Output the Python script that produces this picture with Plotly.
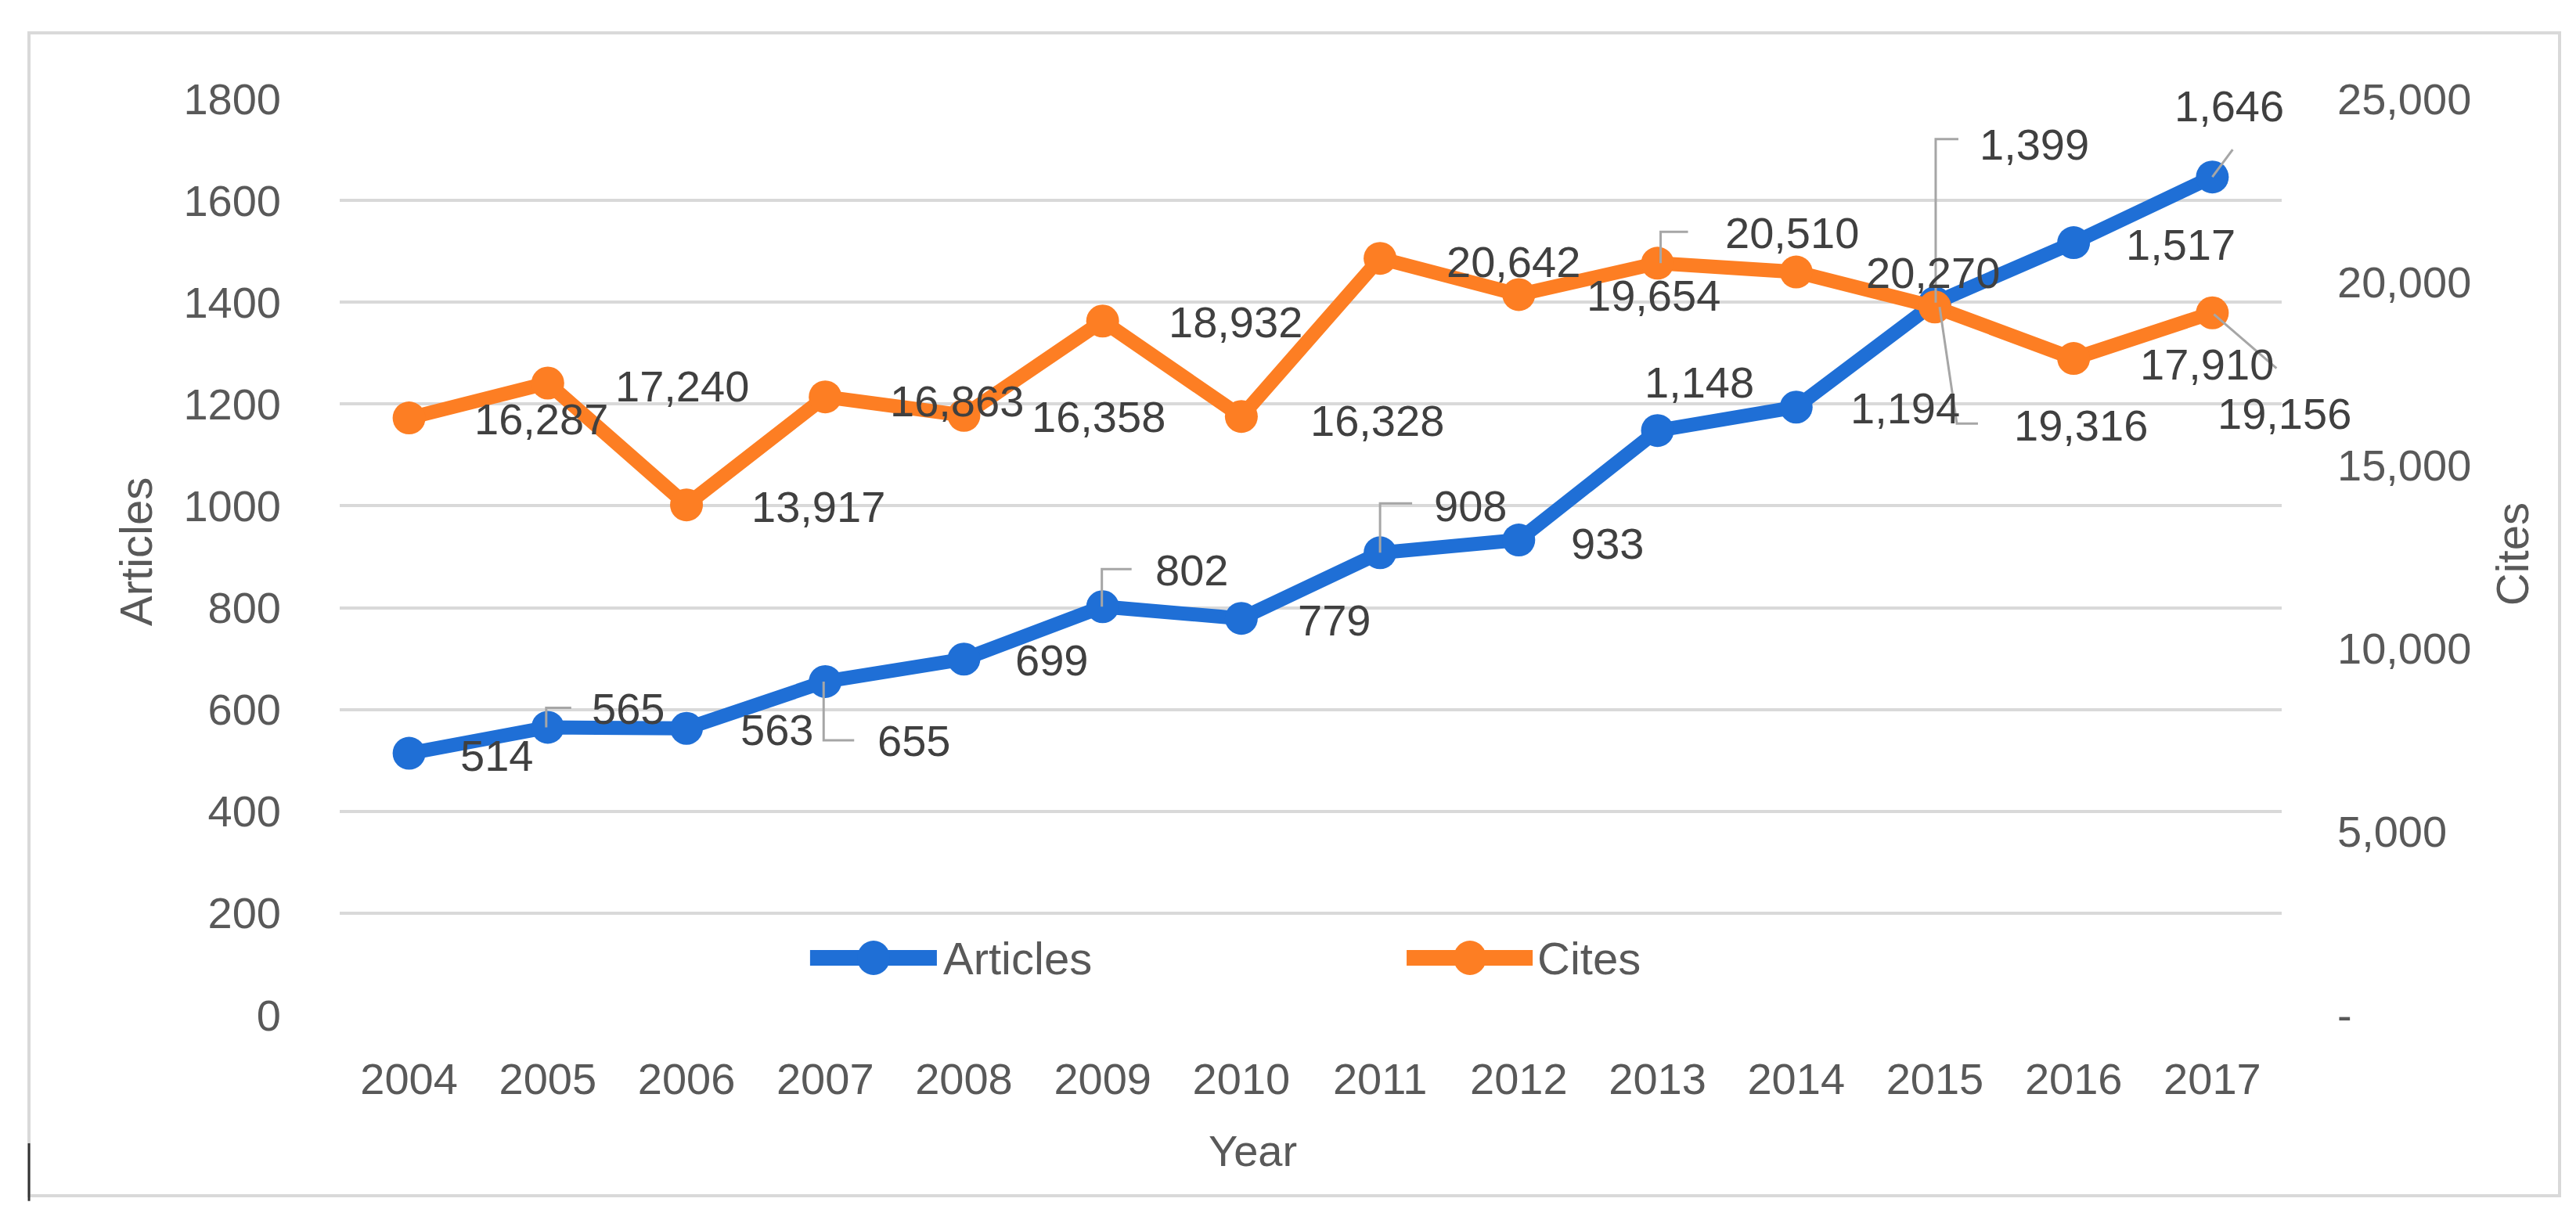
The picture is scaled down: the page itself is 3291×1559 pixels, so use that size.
import plotly.graph_objects as go

# chart data
years = ["2004", "2005", "2006", "2007", "2008", "2009", "2010",
         "2011", "2012", "2013", "2014", "2015", "2016", "2017"]
articles = [514, 565, 563, 655, 699, 802, 779, 908, 933, 1148, 1194, 1399, 1517, 1646]
cites = [16287, 17240, 13917, 16863, 16358, 18932, 16328,
         20642, 19654, 20510, 20270, 19316, 17910, 19156]

left_ticks = [0, 200, 400, 600, 800, 1000, 1200, 1400, 1600, 1800]
right_ticks = [0, 5000, 10000, 15000, 20000, 25000]
right_ticktext = ["-", "5,000", "10,000", "15,000", "20,000", "25,000"]

# label placement (px from the marker: left edge of text, vertical offset downwards)
articles_label_offsets = [(63, 3), (54, -24), (67, 2), (65, 76), (64, 1), (65, -47), (70, 2),
                          (67, -60), (65, 4), (-19, -62), (67, 1), (55, -202), (65, 2), (-50, -91)]
cites_label_offsets = [(81, 1), (84, 4), (81, 2), (81, 5), (85, 2), (82, 1), (86, 5),
                       (83, 4), (85, 1), (84, -39), (87, 1), (99, 151), (83, 7), (5, 129)]

# leader lines, pixel paths relative to the marker (y up)
articles_leaders = {1: "M -2,0 V 25 H 30", 3: "M -2,0 V -75 H 37", 5: "M -1,0 V 48 H 37",
                    7: "M 0,0 V 63 H 41", 11: "M 1,0 V 209 H 30", 13: "M 0,0 L 26,35"}
cites_leaders = {9: "M 4,0 V 40 H 39", 11: "M 6,0 L 28,-149 H 55", 13: "M 2,-2 L 82,-71"}

BLUE = "#1F6FD6"
ORANGE = "#FD7E23"
TEXT = "#595959"
LABEL = "#404040"
FONT = "Liberation Sans"
FS = 56

fig = go.Figure()

fig.add_trace(
    go.Scatter(
        name="Articles",
        x=years,
        y=articles,
        mode="lines+markers",
        line=dict(color=BLUE, width=18),
        marker=dict(color=BLUE, size=42),
        yaxis="y",
        showlegend=False,
    )
)
fig.add_trace(
    go.Scatter(
        name="Cites",
        x=years,
        y=cites,
        mode="lines+markers",
        line=dict(color=ORANGE, width=18),
        marker=dict(color=ORANGE, size=42),
        yaxis="y2",
        showlegend=False,
    )
)

annotations = []
shapes = []

# category positions are given by index, the year strings look numeric to plotly.js
for i, v in enumerate(articles):
    dx, dy = articles_label_offsets[i]
    annotations.append(
        dict(x=i, y=v, xref="x", yref="y", text=f"{v:,}", showarrow=False,
             xanchor="left", yanchor="middle", xshift=dx, yshift=-dy,
             font=dict(family=FONT, size=FS, color=LABEL))
    )
    if i in articles_leaders:
        shapes.append(
            dict(type="path", xref="x", yref="y", xsizemode="pixel", ysizemode="pixel",
                 xanchor=i, yanchor=v, path=articles_leaders[i],
                 line=dict(color="#A6A6A6", width=3))
        )

for i, v in enumerate(cites):
    dx, dy = cites_label_offsets[i]
    annotations.append(
        dict(x=i, y=v, xref="x", yref="y2", text=f"{v:,}", showarrow=False,
             xanchor="left", yanchor="middle", xshift=dx, yshift=-dy,
             font=dict(family=FONT, size=FS, color=LABEL))
    )
    if i in cites_leaders:
        shapes.append(
            dict(type="path", xref="x", yref="y2", xsizemode="pixel", ysizemode="pixel",
                 xanchor=i, yanchor=v, path=cites_leaders[i],
                 line=dict(color="#A6A6A6", width=3))
        )

# axis titles
annotations += [
    dict(x=-0.105, y=0.506, xref="paper", yref="paper", text="Articles", showarrow=False,
         xanchor="center", yanchor="middle", textangle=-90,
         font=dict(family=FONT, size=58, color=TEXT)),
    dict(x=1.119, y=0.503, xref="paper", yref="paper", text="Cites", showarrow=False,
         xanchor="center", yanchor="middle", textangle=-90,
         font=dict(family=FONT, size=58, color=TEXT)),
    dict(x=0.470, y=-0.148, xref="paper", yref="paper", text="Year", showarrow=False,
         xanchor="center", yanchor="middle", font=dict(family=FONT, size=FS, color=TEXT)),
]

# legend drawn by hand so the symbols keep the full line and marker size
legend_y = 0.0623
legend_items = [("Articles", BLUE, 0.2422, 0.3075, 0.2749, 0.3100),
                ("Cites", ORANGE, 0.5494, 0.6143, 0.5820, 0.6159)]
for name, color, lx0, lx1, cx, tx in legend_items:
    shapes.append(dict(type="line", xref="paper", yref="paper", x0=lx0, x1=lx1,
                       y0=legend_y, y1=legend_y, line=dict(color=color, width=20)))
    shapes.append(dict(type="circle", xref="paper", yref="paper", xsizemode="pixel",
                       ysizemode="pixel", xanchor=cx, yanchor=legend_y, x0=-21, x1=21,
                       y0=-22, y1=22, fillcolor=color, line=dict(width=0)))
    annotations.append(dict(x=tx, y=legend_y, xref="paper", yref="paper", text=name,
                            showarrow=False, xanchor="left", yanchor="middle",
                            font=dict(family=FONT, size=58, color=TEXT)))

# outer frame and the stray mark at the bottom left
shapes += [
    dict(type="rect", xref="paper", yref="paper", x0=-0.16, x1=1.1431, y0=-0.1973, y1=1.0717,
         line=dict(color="#D9D9D9", width=4), layer="below"),
    dict(type="line", xref="paper", yref="paper", x0=-0.16, x1=-0.16, y0=-0.140, y1=-0.203,
         line=dict(color="#333333", width=3)),
]

fig.update_layout(
    width=3291,
    height=1559,
    margin=dict(l=426, r=384, t=118, b=270),
    paper_bgcolor="white",
    plot_bgcolor="white",
    showlegend=False,
    font=dict(family=FONT, size=FS, color=TEXT),
    xaxis=dict(type="category", range=[-0.5, 13.5], showgrid=False, zeroline=False,
               showline=False, ticks="", ticklabelstandoff=44,
               tickfont=dict(family=FONT, size=FS, color=TEXT)),
    yaxis=dict(range=[0, 1800], tickvals=left_ticks, showgrid=True, gridcolor="#D9D9D9",
               gridwidth=4, zeroline=False, showline=False, ticks="", ticklabelstandoff=74,
               tickfont=dict(family=FONT, size=FS, color=TEXT)),
    yaxis2=dict(range=[0, 25000], overlaying="y", side="right", tickvals=right_ticks,
                ticktext=right_ticktext, showgrid=False, zeroline=False, showline=False,
                ticks="", ticklabelstandoff=70,
                tickfont=dict(family=FONT, size=FS, color=TEXT)),
    annotations=annotations,
    shapes=shapes,
)

fig.write_html("out.html")
